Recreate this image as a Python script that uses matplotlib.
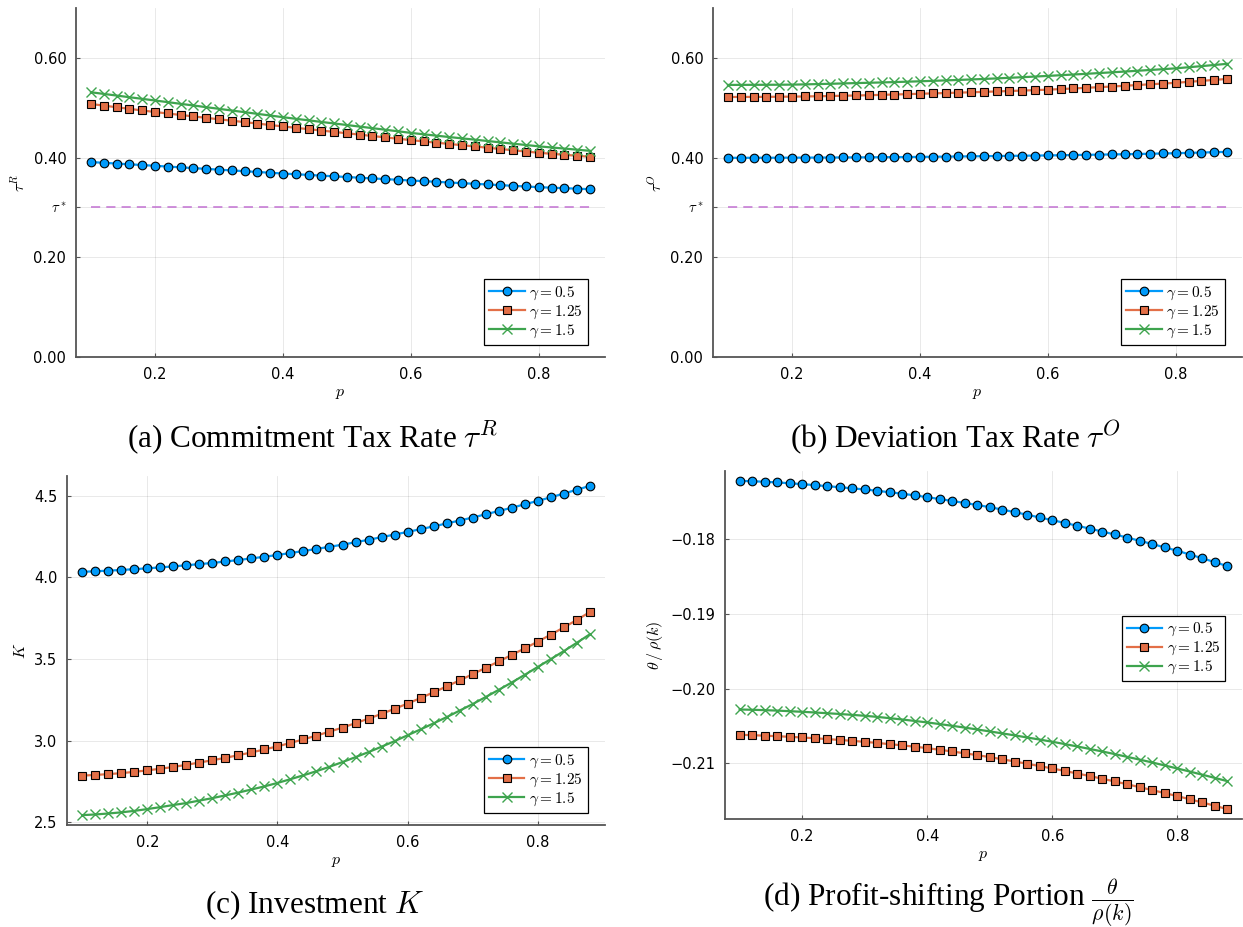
import matplotlib
matplotlib.use('Agg')
import matplotlib.pyplot as plt

plt.rcParams['mathtext.fontset'] = 'cm'
plt.rcParams['font.family'] = 'DejaVu Sans'

# grid of shifting probabilities
p = [0.10, 0.12, 0.14, 0.16, 0.18, 0.20, 0.22, 0.24, 0.26, 0.28,
     0.30, 0.32, 0.34, 0.36, 0.38, 0.40, 0.42, 0.44, 0.46, 0.48,
     0.50, 0.52, 0.54, 0.56, 0.58, 0.60, 0.62, 0.64, 0.66, 0.68,
     0.70, 0.72, 0.74, 0.76, 0.78, 0.80, 0.82, 0.84, 0.86, 0.88]

gammas = ['0.5', '1.25', '1.5']
tau_star = 0.3

# commitment tax rate tau^R
tauR_g05 = [0.3910, 0.3895, 0.3880, 0.3865, 0.3850, 0.3835, 0.3820, 0.3804, 0.3789, 0.3773,
            0.3758, 0.3742, 0.3727, 0.3711, 0.3696, 0.3680, 0.3666, 0.3652, 0.3638, 0.3624,
            0.3610, 0.3596, 0.3582, 0.3568, 0.3554, 0.3540, 0.3527, 0.3514, 0.3500, 0.3487,
            0.3474, 0.3460, 0.3447, 0.3433, 0.3420, 0.3406, 0.3396, 0.3386, 0.3376, 0.3366]
tauR_g125 = [0.5075, 0.5042, 0.5010, 0.4977, 0.4945, 0.4914, 0.4884, 0.4855, 0.4826, 0.4797,
             0.4768, 0.4740, 0.4711, 0.4682, 0.4653, 0.4625, 0.4597, 0.4570, 0.4542, 0.4515,
             0.4487, 0.4460, 0.4432, 0.4405, 0.4377, 0.4350, 0.4324, 0.4299, 0.4273, 0.4248,
             0.4223, 0.4197, 0.4172, 0.4146, 0.4121, 0.4096, 0.4076, 0.4056, 0.4036, 0.4016]
tauR_g15 = [0.5310, 0.5277, 0.5244, 0.5211, 0.5178, 0.5145, 0.5112, 0.5078, 0.5045, 0.5011,
            0.4978, 0.4944, 0.4911, 0.4877, 0.4844, 0.4810, 0.4778, 0.4747, 0.4715, 0.4684,
            0.4653, 0.4621, 0.4590, 0.4558, 0.4527, 0.4495, 0.4467, 0.4439, 0.4412, 0.4385,
            0.4359, 0.4332, 0.4305, 0.4278, 0.4252, 0.4225, 0.4203, 0.4180, 0.4158, 0.4135]

# deviation tax rate tau^O
tauO_g05 = [0.3995, 0.3995, 0.3996, 0.3996, 0.3997, 0.3998, 0.3999, 0.4000, 0.4001, 0.4002,
            0.4004, 0.4005, 0.4007, 0.4009, 0.4011, 0.4014, 0.4016, 0.4019, 0.4022, 0.4025,
            0.4028, 0.4031, 0.4034, 0.4037, 0.4040, 0.4043, 0.4047, 0.4051, 0.4055, 0.4059,
            0.4063, 0.4067, 0.4072, 0.4077, 0.4082, 0.4088, 0.4094, 0.4101, 0.4108, 0.4115]
tauO_g125 = [0.5215, 0.5216, 0.5217, 0.5218, 0.5220, 0.5222, 0.5226, 0.5230, 0.5235, 0.5240,
             0.5245, 0.5251, 0.5258, 0.5265, 0.5272, 0.5280, 0.5287, 0.5295, 0.5302, 0.5310,
             0.5318, 0.5326, 0.5335, 0.5344, 0.5353, 0.5362, 0.5374, 0.5386, 0.5399, 0.5412,
             0.5425, 0.5440, 0.5455, 0.5470, 0.5485, 0.5500, 0.5519, 0.5538, 0.5558, 0.5577]
tauO_g15 = [0.5457, 0.5458, 0.5459, 0.5460, 0.5461, 0.5463, 0.5468, 0.5474, 0.5480, 0.5487,
            0.5494, 0.5500, 0.5507, 0.5514, 0.5522, 0.5530, 0.5539, 0.5548, 0.5557, 0.5567,
            0.5577, 0.5588, 0.5600, 0.5612, 0.5625, 0.5638, 0.5652, 0.5666, 0.5680, 0.5695,
            0.5710, 0.5725, 0.5741, 0.5757, 0.5773, 0.5790, 0.5812, 0.5834, 0.5857, 0.5880]

# investment K
K_g05 = [4.035, 4.038, 4.042, 4.046, 4.051, 4.056, 4.062, 4.068, 4.075, 4.082,
         4.089, 4.098, 4.107, 4.117, 4.127, 4.138, 4.150, 4.162, 4.175, 4.188,
         4.201, 4.216, 4.231, 4.247, 4.263, 4.279, 4.296, 4.313, 4.331, 4.349,
         4.367, 4.387, 4.407, 4.427, 4.448, 4.469, 4.491, 4.514, 4.537, 4.561]
K_g125 = [2.787, 2.791, 2.796, 2.802, 2.810, 2.819, 2.829, 2.840, 2.853, 2.867,
          2.881, 2.896, 2.912, 2.929, 2.947, 2.966, 2.987, 3.009, 3.032, 3.056,
          3.081, 3.108, 3.136, 3.165, 3.196, 3.228, 3.262, 3.297, 3.333, 3.370,
          3.408, 3.447, 3.486, 3.526, 3.566, 3.607, 3.650, 3.694, 3.740, 3.788]
K_g15 = [2.545, 2.549, 2.555, 2.562, 2.571, 2.582, 2.594, 2.607, 2.619, 2.634,
         2.649, 2.666, 2.683, 2.702, 2.721, 2.742, 2.765, 2.789, 2.814, 2.841,
         2.870, 2.900, 2.931, 2.964, 2.998, 3.034, 3.070, 3.107, 3.145, 3.185,
         3.225, 3.268, 3.312, 3.357, 3.404, 3.452, 3.500, 3.549, 3.600, 3.652]

# profit-shifting portion theta / rho(k)
shift_g05 = [-0.17226, -0.17231, -0.17238, -0.17247, -0.17258, -0.17270, -0.17283, -0.17297,
             -0.17311, -0.17326, -0.17341, -0.17359, -0.17378, -0.17398, -0.17420, -0.17444,
             -0.17469, -0.17495, -0.17521, -0.17549, -0.17577, -0.17610, -0.17644, -0.17679,
             -0.17715, -0.17751, -0.17788, -0.17826, -0.17864, -0.17903, -0.17942, -0.17984,
             -0.18027, -0.18070, -0.18115, -0.18160, -0.18210, -0.18260, -0.18312, -0.18365]
shift_g125 = [-0.20617, -0.20622, -0.20629, -0.20636, -0.20644, -0.20653, -0.20663, -0.20674,
              -0.20686, -0.20698, -0.20711, -0.20726, -0.20742, -0.20758, -0.20776, -0.20795,
              -0.20817, -0.20840, -0.20864, -0.20889, -0.20915, -0.20944, -0.20974, -0.21004,
              -0.21035, -0.21067, -0.21100, -0.21134, -0.21168, -0.21204, -0.21240, -0.21278,
              -0.21317, -0.21356, -0.21396, -0.21436, -0.21478, -0.21521, -0.21565, -0.21610]
shift_g15 = [-0.20279, -0.20283, -0.20288, -0.20294, -0.20302, -0.20310, -0.20319, -0.20329,
             -0.20339, -0.20351, -0.20363, -0.20378, -0.20395, -0.20413, -0.20432, -0.20452,
             -0.20474, -0.20497, -0.20521, -0.20546, -0.20572, -0.20598, -0.20625, -0.20653,
             -0.20681, -0.20710, -0.20741, -0.20773, -0.20806, -0.20840, -0.20875, -0.20912,
             -0.20949, -0.20987, -0.21027, -0.21067, -0.21108, -0.21150, -0.21193, -0.21236]

colors = ['#009AFA', '#E36F47', '#3EA44E']
tau_color = '#C271D2'

W, H = 1243, 927
fig = plt.figure(figsize=(W / 100, H / 100), dpi=100)


def make_axes(left, top, right, bottom):
    # pixel box -> figure fraction
    return fig.add_axes([left / W, 1 - bottom / H, (right - left) / W, (bottom - top) / H])


def draw_series(ax, series, legend_anchor, legend_loc):
    styles = [dict(marker='o', mfc=colors[0], mec='black', mew=0.8, ms=6.2),
              dict(marker='s', mfc=colors[1], mec='black', mew=0.8, ms=6),
              dict(marker='x', mfc=colors[2], mec=colors[2], mew=1.0, ms=6.5)]
    for y, g, c, st in zip(series, gammas, colors, styles):
        ax.plot(p, y, color=c, lw=1.6, label=rf'$\gamma = {g}$', **st)
    span = p[-1] - p[0]
    ax.set_xlim(p[0] - 0.03 * span, p[-1] + 0.03 * span)
    ax.set_xticks([0.2, 0.4, 0.6, 0.8])
    ax.set_xticklabels(['0.2', '0.4', '0.6', '0.8'])
    ax.set_xlabel(r'$p$', fontsize=11.5, labelpad=3)
    for side in ('top', 'right'):
        ax.spines[side].set_visible(False)
    for side in ('left', 'bottom'):
        ax.spines[side].set_color('#555555')
        ax.spines[side].set_linewidth(1.3)
    ax.tick_params(direction='in', length=3, width=0.8, color='#555555',
                   labelsize=10.5, pad=7)
    ax.grid(True, color='black', alpha=0.1, lw=0.6)
    ax.set_axisbelow(True)
    leg = ax.legend(loc=legend_loc, bbox_to_anchor=legend_anchor, borderaxespad=0,
                    fontsize=11, fancybox=False, framealpha=1, edgecolor='black',
                    handlelength=2.3, handletextpad=0.3, labelspacing=0.1,
                    borderpad=0.35, numpoints=1)
    leg.get_frame().set_linewidth(0.9)


def widen(series):
    lo = min(min(s) for s in series)
    hi = max(max(s) for s in series)
    pad = 0.03 * (hi - lo)
    return lo - pad, hi + pad


# (a) commitment tax rate
ax = make_axes(76, 8, 605, 357)
draw_series(ax, [tauR_g05, tauR_g125, tauR_g15], (0.968, 0.034), 'lower right')
ax.hlines(tau_star, p[0], p[-1], colors=tau_color, linestyles=(0, (6, 4)), lw=1.1)
ax.set_ylim(0, 0.7)
ax.set_yticks([0.0, 0.2, tau_star, 0.4, 0.6])
ax.set_yticklabels(['0.00', '0.20', r'$\tau^*$', '0.40', '0.60'])
ax.set_ylabel(r'$\tau^R$', fontsize=11.5, labelpad=4)

# (b) deviation tax rate
ax = make_axes(713, 8, 1242, 357)
draw_series(ax, [tauO_g05, tauO_g125, tauO_g15], (0.968, 0.034), 'lower right')
ax.hlines(tau_star, p[0], p[-1], colors=tau_color, linestyles=(0, (6, 4)), lw=1.1)
ax.set_ylim(0, 0.7)
ax.set_yticks([0.0, 0.2, tau_star, 0.4, 0.6])
ax.set_yticklabels(['0.00', '0.20', r'$\tau^*$', '0.40', '0.60'])
ax.set_ylabel(r'$\tau^O$', fontsize=11.5, labelpad=4)

# (c) investment
ax = make_axes(67, 476, 605, 825)
draw_series(ax, [K_g05, K_g125, K_g15], (0.968, 0.034), 'lower right')
ax.set_ylim(*widen([K_g05, K_g125, K_g15]))
ax.set_yticks([2.5, 3.0, 3.5, 4.0, 4.5])
ax.set_yticklabels(['2.5', '3.0', '3.5', '4.0', '4.5'])
ax.set_ylabel(r'$K$', fontsize=11.5, labelpad=4)

# (d) profit-shifting portion
ax = make_axes(725, 471, 1242, 819)
draw_series(ax, [shift_g05, shift_g125, shift_g15], (0.968, 0.49), 'center right')
ax.set_ylim(*widen([shift_g05, shift_g125, shift_g15]))
ax.set_yticks([-0.21, -0.20, -0.19, -0.18])
ax.set_yticklabels(['\u22120.21', '\u22120.20', '\u22120.19', '\u22120.18'])
ax.set_ylabel(r'$\theta\,/\,\rho(k)$', fontsize=11.5, labelpad=4)

# sub-captions
cap = dict(ha='center', va='center', fontsize=22.5, family='Liberation Serif')
fig.text(312 / W, 1 - 437 / H, r'(a) Commitment Tax Rate $\tau^R$', **cap)
fig.text(955 / W, 1 - 437 / H, r'(b) Deviation Tax Rate $\tau^O$', **cap)
fig.text(314 / W, 1 - 905 / H, r'(c) Investment $K$', **cap)
fig.text(948 / W, 1 - 903 / H, r'(d) Profit-shifting Portion $\frac{\theta}{\rho(k)}$', **cap)

fig.savefig('out.png', dpi=100)
